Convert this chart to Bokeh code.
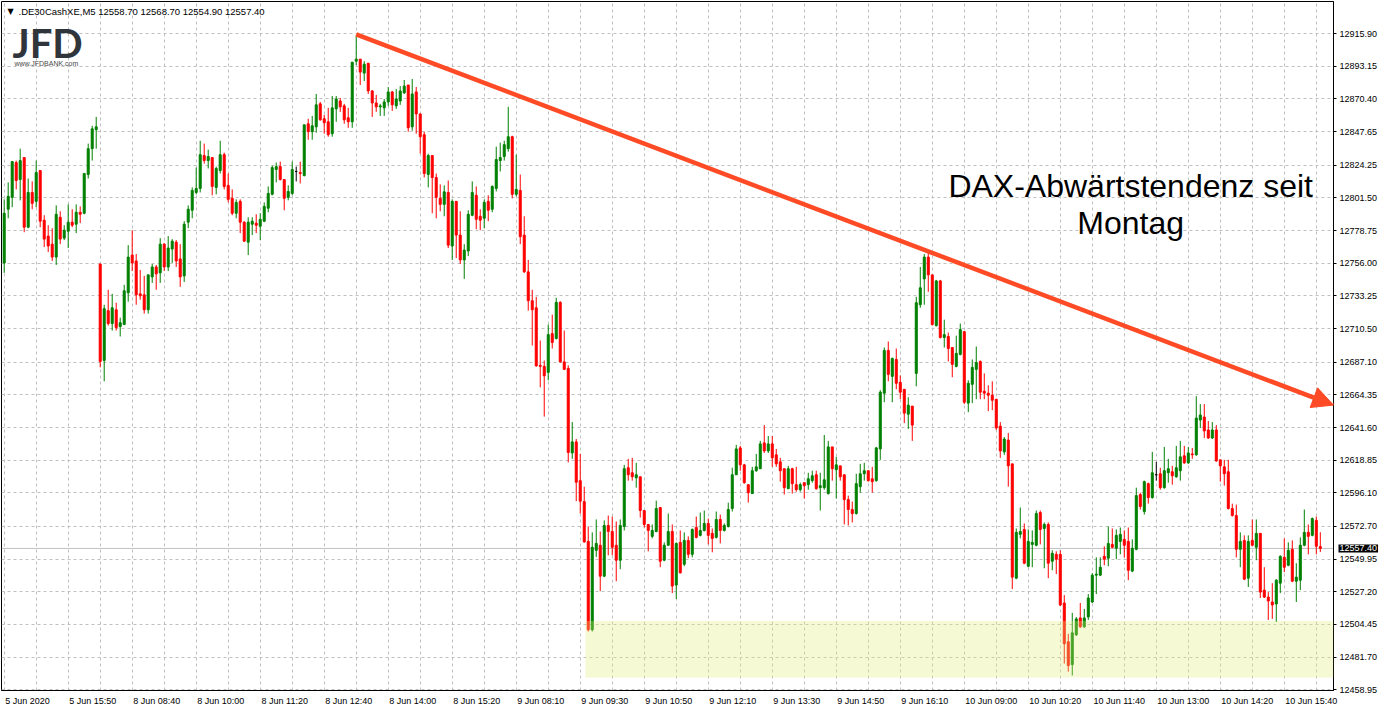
from bokeh.plotting import figure
from bokeh.models import (ColumnDataSource, FixedTicker, PrintfTickFormatter, Span,
                          BoxAnnotation, Label, Arrow, NormalHead, Range1d)
from bokeh.embed import file_html
from bokeh.resources import INLINE

# ---------------- data (DE30 cash, M5) ----------------
opens = [
12756.2,12793.6,12801.9,12826.1,12814.3,12829.6,12781.1,12805.3,12799.1,12820.6,
12786.0,12774.9,12769.3,12760.3,12788.0,12773.5,12778.3,12784.6,12783.2,12791.5,
12790.8,12817.8,12835.8,12849.0,12755.5,12688.3,12723.0,12714.0,12723.6,12711.9,
12713.3,12735.4,12761.7,12757.6,12734.7,12734.0,12723.6,12746.5,12753.4,12749.3,
12769.3,12753.4,12765.9,12770.7,12759.0,12747.2,12784.6,12792.9,12805.3,12808.1,
12831.0,12827.5,12829.6,12808.8,12820.6,12831.6,12810.2,12801.2,12790.8,12799.1,
12784.6,12770.7,12783.2,12783.9,12781.8,12785.3,12794.3,12804.0,12821.3,12823.3,
12814.3,12801.9,12804.6,12819.9,12819.2,12817.1,12853.1,12847.6,12851.0,12867.0,
12856.6,12854.5,12846.2,12863.5,12869.0,12865.6,12857.3,12854.5,12896.7,12898.1,
12888.4,12895.3,12876.0,12867.6,12864.9,12864.2,12868.3,12875.3,12865.6,12869.0,
12874.6,12880.1,12851.0,12875.3,12860.0,12845.5,12817.8,12831.0,12815.7,12801.2,
12797.0,12805.3,12768.0,12799.1,12775.6,12758.3,12764.5,12789.4,12803.3,12788.7,
12787.3,12799.1,12793.6,12808.1,12827.5,12830.3,12835.8,12844.1,12804.0,12806.7,
12775.6,12750.0,12729.9,12725.0,12684.9,12684.2,12680.0,12707.0,12703.6,12728.8,
12687.3,12682.8,12623.9,12631.6,12604.6,12590.0,12562.3,12500.7,12556.1,12559.6,
12538.1,12573.4,12569.2,12559.6,12549.2,12572.7,12613.6,12610.1,12606.6,12607.3,
12583.8,12574.1,12565.8,12569.2,12585.9,12549.2,12559.6,12569.2,12531.9,12561.6,
12546.4,12563.0,12553.3,12572.0,12566.5,12569.9,12574.8,12567.9,12565.1,12577.6,
12569.9,12572.7,12585.2,12608.7,12627.4,12615.6,12601.8,12595.6,12611.5,12612.9,
12630.9,12625.3,12630.2,12622.6,12617.7,12612.9,12599.0,12612.9,12601.8,12598.3,
12603.2,12601.8,12604.6,12608.7,12599.7,12599.7,12595.6,12628.1,12612.2,12614.9,
12608.7,12591.4,12584.5,12581.7,12600.4,12609.4,12611.5,12605.9,12604.6,12626.7,
12665.5,12695.3,12677.2,12689.0,12673.1,12668.2,12650.9,12656.5,12679.3,12727.1,
12745.1,12760.3,12747.9,12712.6,12743.7,12704.3,12705.0,12697.3,12684.2,12692.5,
12708.4,12658.6,12671.7,12682.1,12687.6,12666.9,12665.5,12664.1,12661.3,12642.6,
12624.6,12632.9,12616.3,12536.7,12567.2,12570.6,12545.0,12560.2,12559.6,12582.4,
12571.3,12574.1,12548.5,12553.3,12553.3,12519.4,12492.4,12476.5,12497.2,12509.0,
12502.8,12509.7,12520.1,12538.8,12538.8,12551.9,12550.6,12560.2,12557.5,12562.3,
12563.7,12562.3,12541.6,12556.8,12594.9,12583.1,12602.5,12592.8,12608.7,12609.4,
12599.7,12610.1,12610.8,12607.3,12611.5,12621.9,12617.0,12623.2,12622.6,12646.8,
12648.9,12639.9,12634.3,12639.9,12619.1,12614.2,12610.8,12585.2,12580.3,12556.8,
12563.0,12536.7,12563.0,12558.2,12567.9,12528.4,12523.5,12520.1,12518.7,12533.2,
12551.2,12545.7,12556.8,12534.6,12535.3,12559.6,12568.6,12566.5,12576.9,12558.7]

highs = [
12800.5,12812.3,12826.8,12827.5,12835.8,12829.6,12815.0,12813.0,12827.5,12820.6,
12789.4,12782.5,12780.4,12796.3,12792.2,12782.5,12797.0,12793.6,12797.0,12795.6,
12818.5,12839.3,12851.7,12857.9,12755.5,12727.1,12737.5,12734.7,12728.5,12718.1,
12741.0,12768.6,12779.0,12762.4,12751.3,12747.2,12747.9,12755.5,12754.8,12773.5,
12770.0,12774.9,12772.8,12772.1,12769.3,12785.3,12796.3,12808.8,12822.6,12841.3,
12839.3,12835.1,12829.6,12823.3,12841.3,12833.0,12818.5,12807.4,12800.5,12800.5,
12785.3,12788.0,12788.0,12790.1,12790.8,12798.4,12809.5,12824.0,12826.1,12826.8,
12814.3,12810.2,12826.8,12823.3,12826.8,12852.4,12856.6,12858.6,12873.9,12868.3,
12859.3,12864.2,12872.5,12872.5,12871.1,12867.0,12864.2,12896.0,12914.7,12898.1,
12896.7,12895.3,12876.6,12873.2,12867.0,12870.4,12878.7,12876.0,12877.3,12879.4,
12883.6,12880.1,12884.3,12878.7,12860.0,12847.6,12832.3,12831.0,12818.5,12810.9,
12810.2,12813.6,12800.5,12799.1,12792.2,12769.3,12792.9,12813.0,12809.5,12793.6,
12800.5,12803.3,12810.2,12837.2,12840.0,12841.3,12864.9,12844.8,12831.6,12817.8,
12788.7,12758.3,12737.5,12732.6,12702.2,12688.3,12713.3,12720.2,12732.0,12729.5,
12709.1,12684.9,12645.4,12633.6,12623.2,12600.4,12572.7,12568.6,12577.6,12569.2,
12576.9,12580.3,12579.6,12576.2,12577.6,12615.6,12619.8,12620.5,12617.0,12607.3,
12583.8,12574.1,12574.1,12590.7,12585.9,12561.6,12581.7,12574.1,12561.6,12569.9,
12568.6,12565.8,12571.3,12579.6,12582.4,12583.8,12578.2,12571.3,12583.1,12581.0,
12574.8,12589.3,12613.6,12629.5,12628.8,12616.3,12601.8,12614.2,12623.2,12632.3,
12643.3,12635.7,12635.7,12626.7,12620.5,12612.9,12614.9,12613.6,12614.2,12603.2,
12603.2,12610.1,12611.5,12611.5,12610.1,12636.4,12632.3,12628.1,12621.2,12614.9,
12608.7,12594.2,12590.0,12609.4,12616.3,12617.0,12611.5,12614.2,12628.1,12667.6,
12697.3,12701.5,12690.3,12696.6,12677.9,12668.2,12662.7,12656.5,12732.6,12753.4,
12762.4,12765.2,12747.9,12744.4,12744.4,12716.7,12707.7,12697.3,12705.6,12714.0,
12708.4,12674.5,12689.0,12698.0,12688.3,12679.3,12671.0,12673.8,12661.3,12645.4,
12635.0,12637.8,12616.3,12571.3,12585.9,12574.8,12570.6,12569.9,12583.8,12583.8,
12575.5,12575.5,12556.1,12555.4,12556.1,12524.9,12497.9,12512.5,12509.7,12519.4,
12515.2,12525.6,12540.2,12551.2,12551.2,12558.9,12572.7,12571.3,12570.6,12572.0,
12569.9,12572.0,12563.7,12599.7,12596.2,12604.6,12603.2,12624.6,12617.7,12613.6,
12628.1,12619.8,12614.9,12628.8,12632.3,12628.8,12628.1,12627.4,12663.4,12657.9,
12657.9,12646.1,12645.4,12643.3,12619.1,12619.1,12619.1,12588.6,12587.9,12568.6,
12566.5,12566.5,12577.6,12577.6,12567.9,12544.3,12527.0,12533.2,12536.0,12552.6,
12564.4,12561.6,12563.0,12547.1,12565.1,12584.5,12574.1,12578.9,12579.6,12568.7]

lows = [
12749.3,12787.3,12795.0,12807.4,12799.8,12777.6,12780.4,12793.6,12795.0,12781.1,
12767.3,12763.8,12757.6,12754.8,12769.3,12772.1,12766.6,12781.1,12777.0,12783.9,
12790.1,12815.0,12827.5,12835.8,12683.5,12673.8,12712.6,12709.1,12709.1,12705.0,
12713.3,12729.2,12750.6,12727.1,12730.6,12720.9,12720.9,12742.3,12737.5,12742.3,
12750.6,12750.6,12756.2,12753.4,12739.6,12743.0,12780.4,12787.3,12804.0,12805.3,
12825.4,12822.0,12803.3,12804.0,12818.5,12807.4,12798.4,12789.4,12787.3,12777.0,
12770.7,12761.7,12775.6,12777.0,12772.1,12784.6,12791.5,12803.3,12812.3,12813.6,
12792.9,12799.8,12803.3,12813.0,12811.6,12816.4,12842.0,12842.0,12846.9,12855.2,
12846.2,12844.1,12844.1,12854.5,12861.4,12853.1,12850.3,12850.3,12894.0,12880.1,
12882.9,12873.9,12857.9,12861.4,12858.6,12858.6,12865.6,12862.1,12863.5,12866.3,
12873.9,12847.6,12848.3,12846.2,12832.3,12815.7,12808.8,12790.8,12787.3,12792.2,
12788.7,12766.6,12758.3,12759.6,12755.5,12745.1,12761.0,12788.7,12779.7,12779.0,
12780.4,12785.3,12791.5,12806.0,12819.9,12827.5,12833.7,12801.2,12802.6,12769.3,
12749.3,12723.0,12698.7,12684.0,12669.6,12649.2,12674.5,12696.6,12702.9,12686.9,
12681.6,12617.3,12619.8,12590.3,12581.7,12561.5,12499.6,12499.6,12551.5,12527.7,
12537.4,12552.6,12552.6,12534.6,12542.9,12569.9,12604.6,12604.6,12599.7,12578.9,
12572.0,12555.4,12564.4,12568.6,12544.3,12548.5,12559.6,12526.3,12522.2,12540.0,
12545.0,12550.6,12551.2,12564.4,12565.8,12569.2,12560.2,12554.7,12564.4,12560.9,
12569.2,12572.0,12583.1,12608.7,12611.5,12602.5,12589.3,12595.6,12610.8,12612.9,
12623.9,12623.9,12614.2,12614.2,12603.9,12594.9,12599.0,12595.6,12596.9,12596.9,
12592.1,12598.3,12603.2,12598.3,12583.8,12598.3,12594.9,12604.6,12592.1,12604.6,
12574.1,12573.4,12575.5,12581.0,12596.2,12604.6,12603.9,12596.2,12603.9,12619.1,
12659.2,12673.8,12659.2,12668.2,12661.3,12644.7,12640.6,12632.3,12670.3,12725.0,
12727.1,12736.1,12712.6,12711.9,12703.6,12697.3,12687.6,12676.6,12683.5,12691.8,
12657.9,12652.3,12658.6,12661.3,12661.3,12661.3,12653.0,12653.7,12639.9,12620.5,
12622.6,12600.4,12529.1,12536.0,12564.4,12546.4,12544.3,12544.3,12558.9,12560.2,
12543.6,12536.7,12542.2,12539.5,12517.3,12477.2,12471.6,12468.9,12496.5,12502.1,
12502.1,12507.6,12519.4,12525.6,12538.1,12545.7,12545.0,12557.5,12549.9,12553.3,
12551.2,12535.3,12540.9,12556.1,12584.5,12581.0,12588.6,12592.1,12604.6,12598.3,
12599.0,12603.2,12601.8,12606.6,12604.6,12616.3,12616.3,12619.8,12621.9,12641.3,
12634.3,12633.6,12633.6,12617.7,12603.9,12601.1,12584.5,12579.6,12551.2,12544.3,
12535.3,12530.5,12558.9,12549.2,12522.9,12522.9,12507.6,12508.3,12506.2,12526.3,
12540.9,12545.0,12533.9,12520.1,12528.4,12558.9,12553.3,12565.8,12553.3,12554.9]

closes = [
12790.8,12802.6,12826.8,12813.6,12827.5,12781.1,12805.3,12797.7,12819.2,12785.3,
12772.8,12768.0,12760.3,12790.1,12772.8,12779.0,12784.6,12782.5,12791.5,12790.1,
12818.5,12835.8,12849.6,12851.0,12687.6,12724.3,12714.0,12725.0,12711.2,12714.6,
12736.8,12760.3,12756.2,12734.0,12733.3,12723.6,12747.9,12753.4,12748.6,12769.3,
12753.4,12766.6,12771.4,12757.6,12746.5,12783.2,12793.6,12806.7,12808.1,12831.6,
12827.5,12830.3,12809.5,12822.0,12831.6,12809.5,12800.5,12790.8,12798.4,12784.6,
12771.4,12784.6,12785.3,12782.5,12786.6,12795.6,12804.6,12822.6,12823.3,12814.3,
12801.2,12806.0,12821.3,12819.9,12818.5,12852.4,12847.6,12851.7,12866.3,12855.9,
12853.8,12845.5,12864.2,12870.4,12864.9,12855.9,12854.5,12896.0,12898.1,12889.1,
12894.6,12876.0,12867.6,12864.9,12865.6,12868.3,12875.3,12866.3,12870.4,12876.0,
12879.4,12850.3,12873.9,12860.0,12844.1,12818.5,12831.0,12815.7,12801.9,12797.0,
12805.7,12768.6,12799.1,12775.6,12758.3,12765.2,12790.1,12805.3,12786.6,12786.0,
12798.4,12792.9,12809.5,12828.2,12829.6,12838.6,12844.1,12804.0,12807.4,12774.5,
12750.0,12729.9,12723.6,12684.5,12684.2,12677.6,12706.3,12700.8,12728.8,12687.3,
12682.1,12624.2,12631.6,12603.5,12590.3,12561.9,12500.7,12558.2,12560.9,12538.1,
12573.4,12569.2,12558.2,12549.2,12573.4,12612.9,12608.7,12607.3,12608.7,12583.8,
12574.1,12569.9,12569.9,12585.2,12548.5,12559.6,12569.2,12531.2,12560.9,12540.4,
12563.0,12553.3,12570.6,12565.1,12569.9,12574.8,12566.5,12564.4,12577.6,12569.9,
12573.4,12584.5,12608.7,12626.7,12615.6,12603.2,12596.2,12611.5,12614.2,12630.2,
12625.3,12630.2,12620.5,12616.3,12611.5,12599.7,12612.9,12602.5,12598.3,12601.8,
12601.1,12605.9,12608.0,12599.0,12601.1,12605.2,12628.1,12612.9,12615.6,12607.3,
12591.4,12584.5,12581.7,12602.5,12609.4,12611.5,12604.6,12603.9,12627.4,12666.2,
12695.3,12678.6,12689.7,12672.4,12666.2,12651.6,12657.2,12643.3,12728.5,12738.9,
12760.3,12747.9,12713.3,12743.7,12704.3,12706.3,12696.6,12685.6,12693.2,12709.8,
12659.2,12672.4,12683.5,12686.9,12666.2,12665.5,12664.1,12660.6,12641.3,12625.3,
12633.6,12614.9,12537.4,12568.6,12569.2,12547.1,12562.3,12561.6,12581.7,12570.6,
12574.1,12547.1,12554.0,12549.9,12518.0,12491.0,12475.8,12498.6,12508.3,12502.8,
12509.0,12522.9,12538.8,12539.5,12544.3,12549.9,12560.9,12558.2,12566.5,12567.2,
12559.6,12542.2,12557.5,12594.2,12586.6,12603.9,12592.8,12610.1,12608.7,12599.7,
12611.5,12612.9,12608.0,12613.6,12621.2,12617.0,12623.9,12622.6,12648.2,12650.3,
12639.2,12634.3,12639.9,12618.4,12614.9,12609.4,12585.2,12580.3,12556.8,12562.3,
12536.0,12562.3,12559.6,12567.9,12527.0,12523.5,12520.8,12518.0,12535.3,12551.9,
12544.3,12556.1,12534.6,12537.4,12559.6,12568.6,12565.8,12578.2,12558.9,12557.4]

# time-axis labels (one every 16 bars)
time_tick_bars = [0, 16, 32, 48, 64, 80, 96, 112, 128, 144, 160,
                  176, 192, 208, 224, 240, 256, 272, 288, 304, 320]
time_tick_labels = ["5 Jun 2020", "5 Jun 15:50", "8 Jun 08:40", "8 Jun 10:00",
                    "8 Jun 11:20", "8 Jun 12:40", "8 Jun 14:00", "8 Jun 15:20",
                    "9 Jun 08:10", "9 Jun 09:30", "9 Jun 10:50", "9 Jun 12:10",
                    "9 Jun 13:30", "9 Jun 14:50", "9 Jun 16:10", "10 Jun 09:00",
                    "10 Jun 10:20", "10 Jun 11:40", "10 Jun 13:00", "10 Jun 14:20",
                    "10 Jun 15:40"]
price_ticks = [12458.95, 12481.70, 12504.45, 12527.20, 12549.95, 12572.70,
               12596.10, 12618.85, 12641.60, 12664.35, 12687.10, 12710.50,
               12733.25, 12756.00, 12778.75, 12801.50, 12824.25, 12847.65,
               12870.40, 12893.15, 12915.90]
last_price = 12557.40
header_text = ".DE30CashXE,M5  12558.70 12568.70 12554.90 12557.40"
trend_start = (88, 12915.4)      # bar index, price
trend_end = (332.3, 12657.2)
support_zone = (145.3, 12467.5, 12506.9)  # left bar, bottom price, top price

# ---------------- figure ----------------
n = len(opens)
xs = list(range(n))
cols = []
for o, c in zip(opens, closes):
    cols.append("#008000" if c > o else ("#ff0000" if c < o else "#000000"))
src = ColumnDataSource(dict(
    x=xs, o=opens, h=highs, l=lows, c=closes,
    top=[max(o, c) for o, c in zip(opens, closes)],
    bottom=[min(o, c) for o, c in zip(opens, closes)],
    color=cols))

PX_PER_BAR = 4.0
p = figure(width=1382, height=716, output_backend="svg", toolbar_location=None,
           x_range=Range1d(-0.675, 332.3), y_range=Range1d(12458.47, 12938.27),
           y_axis_location="right",
           min_border_left=1, min_border_top=1, min_border_right=49, min_border_bottom=21)
p.background_fill_color = "white"
p.border_fill_color = "white"
p.outline_line_color = "black"
p.outline_line_width = 1
p.outline_line_alpha = 1

# grid
p.xgrid.ticker = FixedTicker(ticks=list(range(0, 333, 8)))
p.ygrid.ticker = FixedTicker(ticks=price_ticks)
for g in (p.xgrid, p.ygrid):
    g.grid_line_color = "#c0c0c0"
    g.grid_line_dash = "3 3"
    g.grid_line_width = 1

# x labels are left-aligned at their bar in MT4: shift the centred labels by half their width
ADV = {" ": 0.278, ":": 0.278, "J": 0.5, "u": 0.556, "n": 0.556}
def text_w(s, size=9.0):
    return size * sum(ADV.get(ch, 0.556) for ch in s)
shifted = [round(b + (1.0 + text_w(t) / 2.0) / PX_PER_BAR, 3)
           for b, t in zip(time_tick_bars, time_tick_labels)]

p.xaxis.ticker = FixedTicker(ticks=shifted)
p.xaxis.major_label_overrides = {s: t for s, t in zip(shifted, time_tick_labels)}
p.yaxis.ticker = FixedTicker(ticks=price_ticks)
p.yaxis.formatter = PrintfTickFormatter(format="%.2f")
for ax in (p.xaxis, p.yaxis):
    ax.axis_line_color = "black"
    ax.major_tick_line_color = "black"
    ax.major_tick_in = 0
    ax.major_tick_out = 3
    ax.minor_tick_line_color = None
    ax.major_label_text_font = "Liberation Sans"
    ax.major_label_text_font_size = "9px"
    ax.major_label_text_color = "black"
p.xaxis.major_tick_line_color = None
p.xaxis.major_tick_out = 0
p.xaxis.major_label_standoff = 5
p.yaxis.major_label_standoff = 3

# current price line
p.add_layout(Span(location=last_price, dimension="width", line_color="#c0c0c0",
                  line_width=1, level="underlay"))

# candles
p.segment(x0="x", y0="h", x1="x", y1="l", line_color="color", line_width=1, source=src)
p.vbar(x="x", top="top", bottom="bottom", width=0.5, fill_color="color",
       line_color="color", line_width=1, source=src)

# support zone
p.add_layout(BoxAnnotation(left=support_zone[0], bottom=support_zone[1], top=support_zone[2],
                           fill_color="#e0ec78", fill_alpha=0.32, line_color=None))

# trend line with arrow
p.add_layout(Arrow(x_start=trend_start[0], y_start=trend_start[1],
                   x_end=trend_end[0], y_end=trend_end[1],
                   line_color="#ff4a26", line_width=4.5,
                   end=NormalHead(size=21, fill_color="#ff4a26", line_color="#ff4a26")))

# annotation text
p.add_layout(Label(x=281.6, y=12809.5, text="DAX-Abwärtstendenz seit", text_align="center",
                   text_baseline="middle", text_font="Liberation Sans",
                   text_font_size="32px", text_color="black"))
p.add_layout(Label(x=281.6, y=12784.2, text="Montag", text_align="center",
                   text_baseline="middle", text_font="Liberation Sans",
                   text_font_size="32px", text_color="black"))

# header
p.add_layout(Label(x=1.575, y=12931.6, text="▼", text_align="center", text_baseline="middle",
                   text_font="DejaVu Sans", text_font_size="8px", text_color="black"))
p.add_layout(Label(x=3.575, y=12931.6, text=header_text, text_align="left",
                   text_baseline="middle", text_font="Liberation Sans",
                   text_font_size="9.5px", text_color="black"))

# logo
p.add_layout(Label(x=2.075, y=12909.5, text="JFD", text_align="left", text_baseline="middle",
                   text_font="Lato", text_font_style="bold", text_font_size="40px",
                   text_color="#30353b"))
p.add_layout(Label(x=2.575, y=12895.0, text="www.JFDBANK.com", text_align="left",
                   text_baseline="middle", text_font="Liberation Sans",
                   text_font_size="7px", text_color="#4a4a4a"))

# price tag on the price axis (kept in a side panel so it is not clipped by the frame)
p.add_layout(Label(x=332.3, y=last_price, x_offset=5, text="12557.40", text_align="left",
                   text_baseline="middle", text_font="Liberation Sans", text_font_size="9px",
                   text_color="white", background_fill_color="black",
                   background_fill_alpha=1.0, padding=1), "below")

open("out.html", "w").write(file_html(p, INLINE))
